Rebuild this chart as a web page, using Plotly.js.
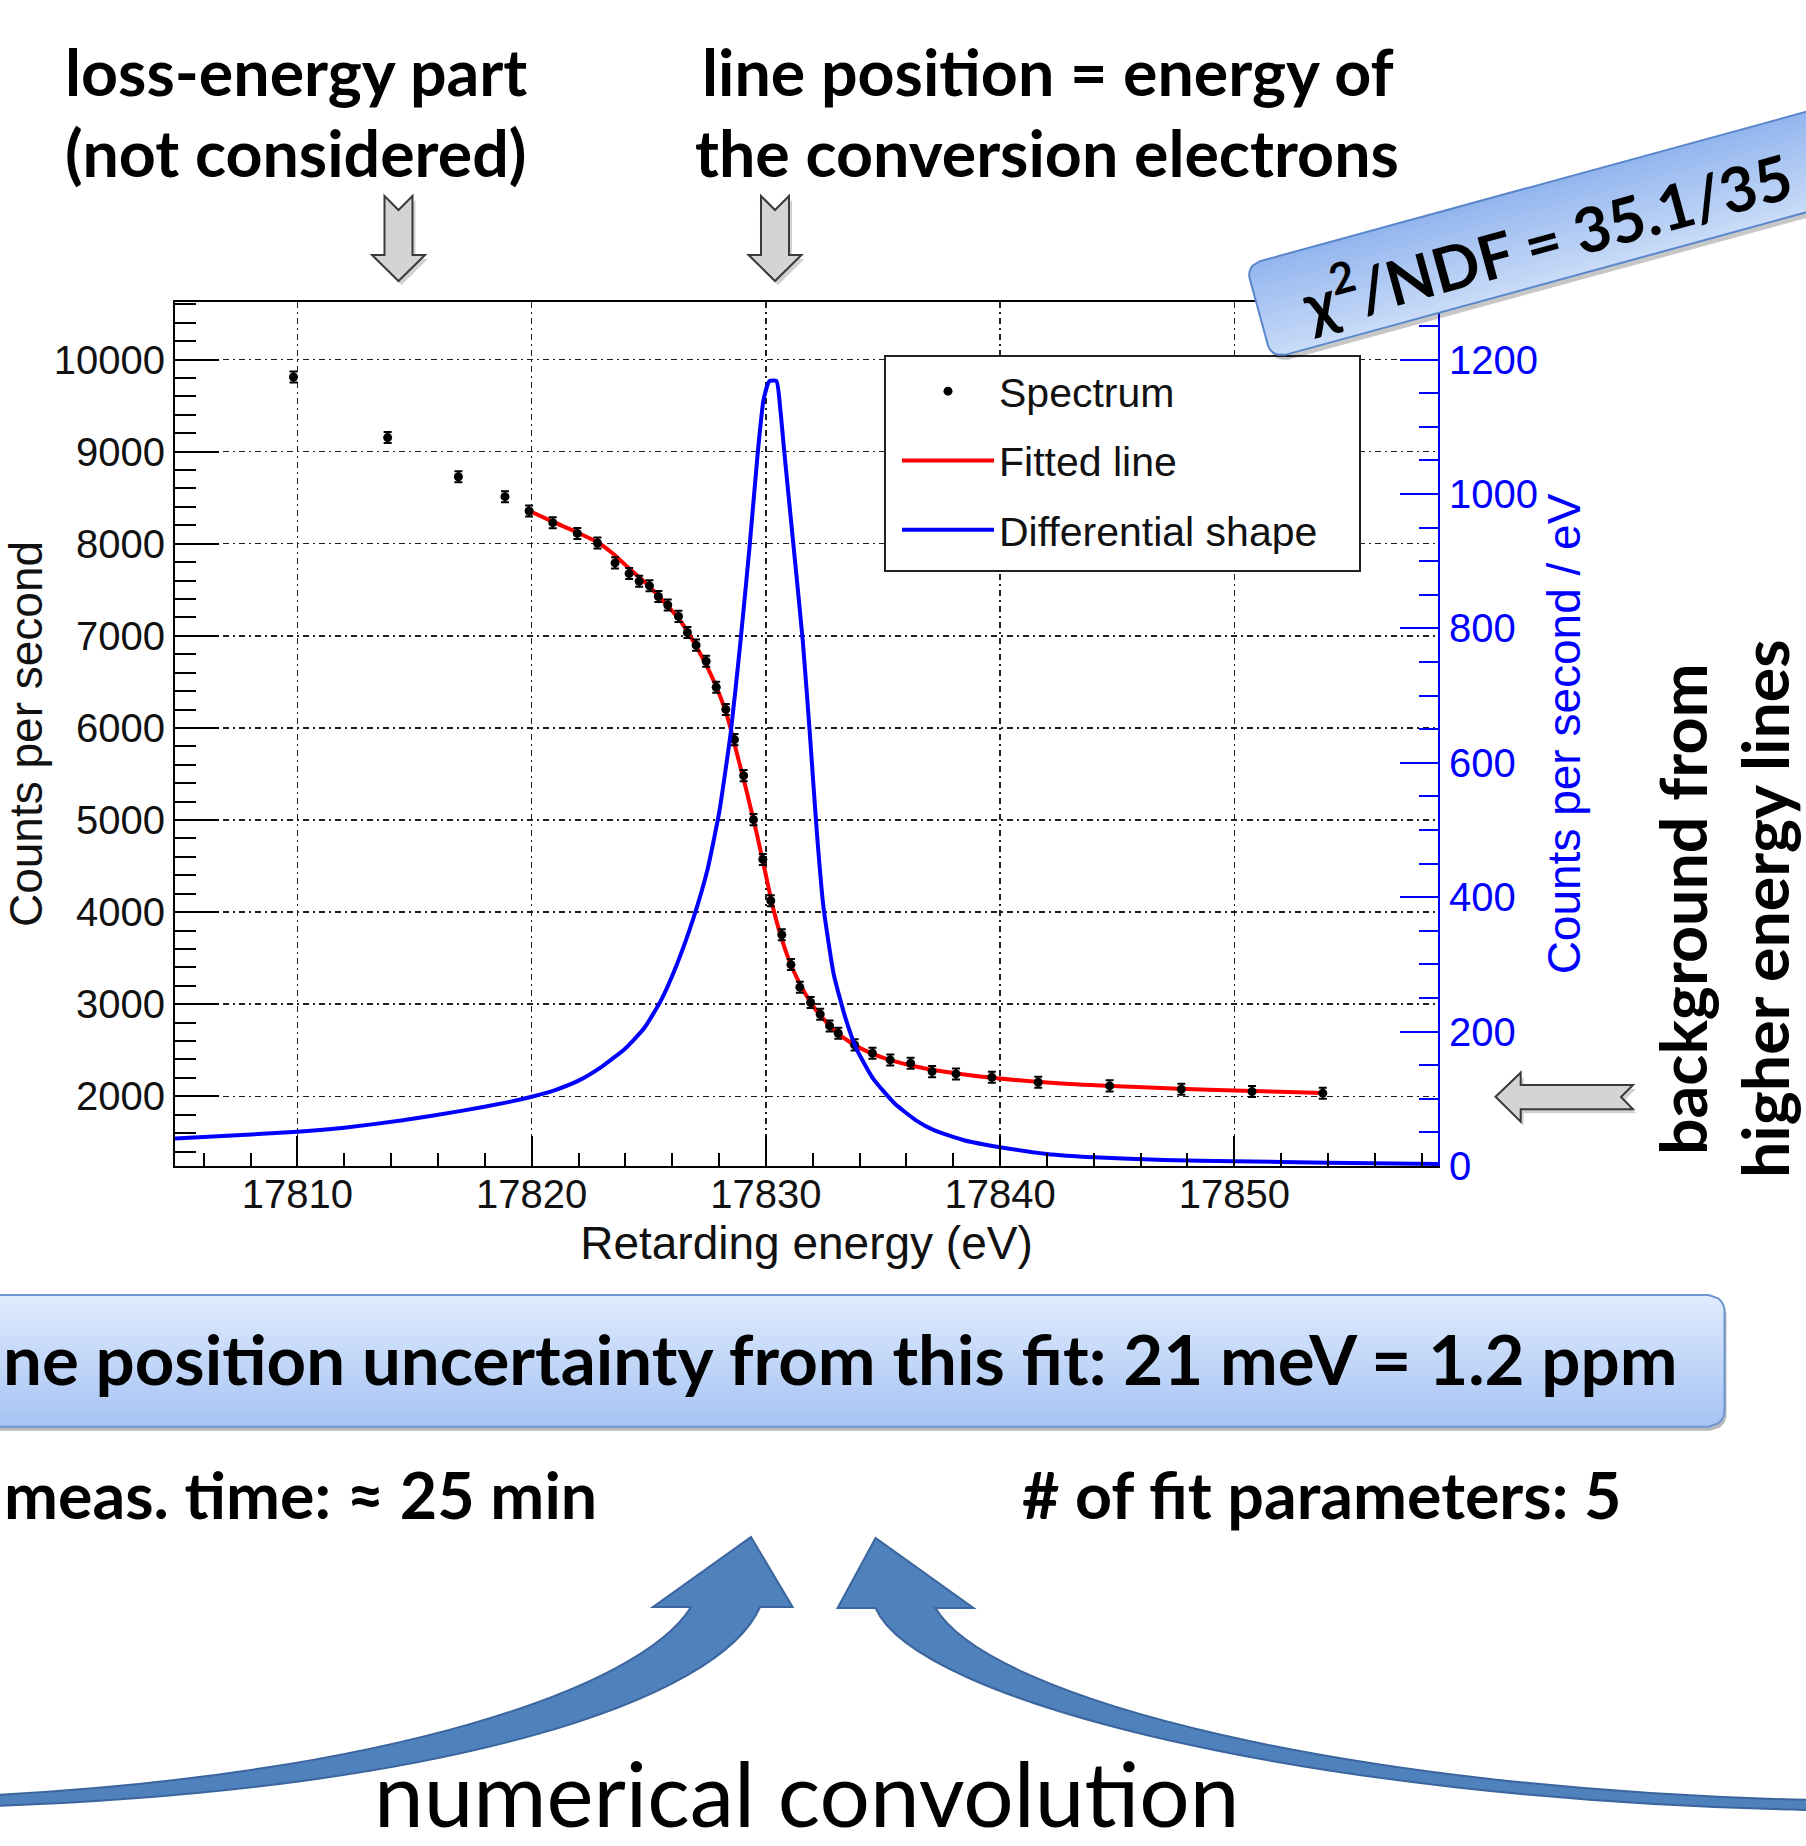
<!DOCTYPE html>
<html><head><meta charset="utf-8">
<script src="https://cdn.plot.ly/plotly-3.0.1.min.js"></script>
<style>html,body{margin:0;padding:0;background:#fff;}#chart{width:1806px;height:1846px;}</style>
</head><body><div id="chart"></div>
<script>
// ---------------- data ----------------
const specE = [17809.83,17813.85,17816.87,17818.86,17819.89,17820.90,17821.95,17822.81,17823.56,17824.16,17824.59,17825.03,17825.41,17825.81,17826.27,17826.65,17827.02,17827.45,17827.88,17828.29,17828.66,17829.05,17829.47,17829.87,17830.21,17830.68,17831.07,17831.45,17831.91,17832.32,17832.72,17833.09,17833.79,17834.55,17835.31,17836.18,17837.10,17838.12,17839.65,17841.63,17844.68,17847.74,17850.76,17853.78];
const specC = [9811,9153,8728,8511,8356,8229,8112,8008,7792,7676,7593,7543,7427,7335,7211,7036,6899,6724,6442,6201,5873,5482,5004,4572,4123,3754,3430,3185,3018,2891,2764,2685,2558,2468,2395,2359,2268,2243,2207,2153,2113,2077,2051,2034];
const fitE = [17819.93,17820.92,17821.92,17822.78,17823.49,17824.20,17824.91,17825.62,17826.33,17827.04,17827.75,17828.32,17828.75,17829.17,17829.60,17829.96,17830.32,17830.74,17831.17,17831.67,17832.13,17832.89,17833.65,17834.41,17835.18,17836.70,17838.23,17839.75,17842.80,17845.85,17848.90,17851.95,17853.75];
const fitC = [8353,8237,8125,8021,7888,7722,7564,7377,7169,6878,6525,6152,5736,5321,4864,4449,4033,3659,3368,3119,2940,2722,2578,2476,2404,2307,2245,2198,2136,2100,2071,2049,2035];
const diffE = [17804.77,17807,17810,17812,17814.5,17817,17819,17820,17821,17822,17823,17824,17824.8,17825.5,17826.2,17826.9,17827.5,17828.0,17828.5,17828.9,17829.3,17829.65,17829.9,17830.15,17830.45,17830.62,17830.78,17831.18,17831.58,17831.89,17832.18,17832.46,17832.9,17833.4,17833.86,17834.58,17835.5,17836.41,17837.2,17838.5,17840,17842,17844,17847,17850,17854,17858.7];
const diffR = [41,45,51,57,68,82,95,103,113,127,148,175,205,245,300,368,440,525,645,775,920,1060,1140,1168,1168,1125,1065,923,780,637,495,385,285,220,175,130,93,68,53,38,28,18,13,9,7,5,3];
const legendNames = ['Spectrum','Fitted line','Differential shape'];

// ---------------- geometry helpers (pixel -> paper) ----------------
const W=1806,H=1846,L=175,R=1438,T=302,B=1166;
const px=x=>(x-L)/(R-L), py=y=>(B-y)/(B-T);
const pt=(x,y)=>px(x).toFixed(5)+','+py(y).toFixed(5);
const poly=pts=>'M'+pts.map(p=>pt(p[0],p[1])).join('L')+'Z';
const shapes=[];
function addPath(path, fill, lc, lw){
  shapes.push({type:'path',xref:'paper',yref:'paper',layer:'above',path:path,fillcolor:fill,
    line:{color:lc||'rgba(0,0,0,0)',width:lw||0}});
}
function lerpCol(c0,c1,t){
  const a=[1,3,5].map(i=>parseInt(c0.substr(i,2),16)), b=[1,3,5].map(i=>parseInt(c1.substr(i,2),16));
  return 'rgb('+a.map((v,i)=>Math.round(v+(b[i]-v)*t)).join(',')+')';
}
function boxFrame(ox,oy,angDeg,r,Hy){
  const a=angDeg*Math.PI/180, ca=Math.cos(a), sa=Math.sin(a);
  const G=(x,y)=>[ox+x*ca+y*sa, oy-x*sa+y*ca];
  const inset=y=>{ if(y<r){const d=r-y;return r-Math.sqrt(Math.max(0,r*r-d*d));}
                   if(y>Hy-r){const d=y-(Hy-r);return r-Math.sqrt(Math.max(0,r*r-d*d));} return 0;};
  return {G,inset};
}
function outline(ox,oy,angDeg,Lx,Hy,r){
  const {G,inset}=boxFrame(ox,oy,angDeg,r,Hy); const pts=[]; const m=40;
  for(let k=0;k<=m;k++){const y=Hy*k/m; pts.push(G(Lx-inset(y),y));}
  for(let k=m;k>=0;k--){const y=Hy*k/m; pts.push(G(inset(y),y));}
  return poly(pts);
}
// rounded rectangle (rotated local frame) with a vertical gradient made of bands
function roundedBox(ox,oy,angDeg,Lx,Hy,r,c0,c1,n,border,bw){
  const {G,inset}=boxFrame(ox,oy,angDeg,r,Hy);
  for(let i=0;i<n;i++){
    const y0=Hy*i/n, y1=Math.min(Hy, Hy*(i+1)/n+0.8);
    const ys=[]; for(let k=0;k<=4;k++) ys.push(y0+(y1-y0)*k/4);
    const pts=[];
    ys.forEach(y=>pts.push(G(Lx-inset(y),y)));
    ys.slice().reverse().forEach(y=>pts.push(G(inset(y),y)));
    addPath(poly(pts), lerpCol(c0,c1,(i+0.5)/n));
  }
  if(border) addPath(outline(ox,oy,angDeg,Lx,Hy,r),'rgba(0,0,0,0)',border,bw);
}

// legend frame (white box with dark border)
addPath(poly([[885,356],[1360,356],[1360,571],[885,571]]),'#ffffff','#222222',2);
// down block arrows (notched)
function downArrow(cx){
  const p=[[cx-14,196],[cx,210],[cx+14,196],[cx+14,255],[cx+26.5,255],[cx,281],[cx-26.5,255],[cx-14,255]];
  addPath(poly(p.map(q=>[q[0]+3,q[1]+4])),'rgba(0,0,0,0.18)');
  addPath(poly(p),'#d4d4d4','#3a3a3a',2);
}
downArrow(398.5); downArrow(775);
// left block arrow (background)
{
  const p=[[1495.5,1096.7],[1520.7,1072.7],[1520.7,1085],[1633,1085],[1621,1097],[1633,1109.3],[1520.7,1109.3],[1520.7,1121.7]];
  addPath(poly(p.map(q=>[q[0]+3,q[1]+4])),'rgba(0,0,0,0.18)');
  addPath(poly(p),'#d4d4d4','#3a3a3a',2);
}
// chi2 box
addPath(outline(1249,270,15.3,720,97,14),'rgba(0,0,0,0.22)');
roundedBox(1246,265,15.3,720,97,14,'#93b5ee','#c9dcf8',24,'#5a86cc',2);
// banner box
addPath(outline(-28,1299,0,1754.5,131.7,16),'rgba(0,0,0,0.28)');
roundedBox(-30,1295,0,1754.5,131.7,16,'#e0ebfd','#a5c3f4',30,'#6e96d2',2);
// curved arrows
addPath('M'+pt(751,1537)+'L'+pt(792.6,1607)+'L'+pt(760,1607)+'C'+pt(720,1700)+' '+pt(450,1790)+' '+pt(-6,1806)
  +'L'+pt(-6,1795)+'C'+pt(380,1775)+' '+pt(640,1690)+' '+pt(691,1607)+'L'+pt(653,1607)+'Z','#4f81bd','#3b659c',2);
addPath('M'+pt(875.6,1538)+'L'+pt(837.6,1608)+'L'+pt(875.6,1608)+'C'+pt(915,1700)+' '+pt(1300,1800)+' '+pt(1812,1810)
  +'L'+pt(1812,1800)+'C'+pt(1350,1790)+' '+pt(990,1700)+' '+pt(935.5,1608)+'L'+pt(973.5,1608)+'Z','#4f81bd','#3b659c',2);

// ---------------- annotations ----------------
const FB='Lato, "Open Sans", sans-serif';
const fsB=64.5, cOff=0.387*fsB, fsBan=69, fsChi=62, fsConv=89;
function note(text,x,y,opts,size){
  return Object.assign({xref:'paper',yref:'paper',x:px(x),y:py(y),text:text,showarrow:false,
    xanchor:'center',yanchor:'middle',font:{family:FB,size:size||fsB,color:'#000'}},opts||{});
}
const annots=[
  note('<b>loss-energy part</b>',296,96-cOff),
  note('<b>(not considered)</b>',296,176.7-cOff),
  note('<b>line position = energy of</b>',1048,96-cOff),
  note('<b>the conversion electrons</b>',1047,176.7-cOff),
  note('<b>χ<sup>2</sup>/NDF = 35.1/35</b>',1546,236,{textangle:-15.3},fsChi),
  note('<b>ne position uncertainty from this fit: 21 meV = 1.2 ppm</b>',1680,1385-0.387*fsBan,{xanchor:'right'},fsBan),
  note('<b>meas. time: ≈ 25 min</b>',2,1519-cOff,{xanchor:'left'}),
  note('<b># of fit parameters: 5</b>',1020,1519-cOff,{xanchor:'left'}),
  note('<b>background from</b>',1707-cOff,909,{textangle:-90}),
  note('<b>higher energy lines</b>',1789-cOff,909,{textangle:-90}),
  note('numerical convolution',806,1827-0.387*fsConv,{},fsConv)
];

// ---------------- traces ----------------
const ROOTF='"Liberation Sans", Arial, sans-serif';
const traces=[
  {x:fitE,y:fitC,type:'scatter',mode:'lines',name:legendNames[1],line:{color:'#ff0000',width:4,shape:'spline',smoothing:0.6},
   legendrank:2,legendgroup:'b'},
  {x:specE,y:specC,type:'scatter',mode:'markers',name:legendNames[0],marker:{color:'#000',size:9},
   error_y:{type:'constant',value:60,color:'#000',thickness:2,width:4},legendrank:1,legendgroup:'a'},
  {x:diffE,y:diffR,type:'scatter',mode:'lines',yaxis:'y2',name:legendNames[2],line:{color:'#0000ff',width:4,shape:'spline',smoothing:0.5},
   legendrank:3,legendgroup:'c'}
];
const gridDash='6px,4px,2px,4px';
const layout={
  width:W,height:H,margin:{l:L,r:W-R,t:T,b:H-B,pad:0},
  paper_bgcolor:'#fff',plot_bgcolor:'#fff',
  font:{family:ROOTF,color:'#111'},
  xaxis:{range:[17804.77,17858.70],tick0:17800,dtick:10,tickformat:'d',ticks:'inside',ticklen:30,tickwidth:2,tickcolor:'#000',
    showline:true,linecolor:'#000',linewidth:2,mirror:true,zeroline:false,
    showgrid:true,gridcolor:'#222',gridwidth:1.5,griddash:gridDash,
    minor:{ticks:'inside',ticklen:13,tickwidth:2,tickcolor:'#000',dtick:2,tick0:17800,showgrid:false},
    tickfont:{family:ROOTF,size:40,color:'#111'},ticklabelstandoff:-8,
    title:{text:'Retarding energy (eV)',font:{family:ROOTF,size:46,color:'#111'},standoff:12}},
  yaxis:{range:[1243,10625],tick0:0,dtick:1000,tickformat:'d',ticks:'inside',ticklen:44,tickwidth:2,tickcolor:'#000',
    showline:true,linecolor:'#000',linewidth:2,mirror:false,zeroline:false,
    showgrid:true,gridcolor:'#222',gridwidth:1.5,griddash:gridDash,
    minor:{ticks:'inside',ticklen:21,tickwidth:2,tickcolor:'#000',dtick:200,tick0:0,showgrid:false},
    tickfont:{family:ROOTF,size:40,color:'#111'},ticklabelstandoff:0,
    title:{text:'Counts per second',font:{family:ROOTF,size:46,color:'#111'},standoff:0}},
  yaxis2:{overlaying:'y',side:'right',range:[0,1285.7],tick0:0,dtick:200,tickformat:'d',ticks:'inside',ticklen:38,tickwidth:2,tickcolor:'#0000ff',
    showline:true,linecolor:'#0000ff',linewidth:2,zeroline:false,showgrid:false,
    minor:{ticks:'inside',ticklen:19,tickwidth:2,tickcolor:'#0000ff',dtick:50,tick0:0,showgrid:false},
    tickfont:{family:ROOTF,size:40,color:'#0000ff'},ticklabelstandoff:1,
    title:{text:'Counts per second / eV',font:{family:ROOTF,size:46,color:'#0000ff'},standoff:8}},
  showlegend:true,
  legend:{x:px(897),y:py(358),xanchor:'left',yanchor:'top',bgcolor:'rgba(0,0,0,0)',borderwidth:0,
    font:{family:ROOTF,size:41,color:'#111'},itemwidth:92,traceorder:'grouped',tracegroupgap:13},
  shapes:shapes,annotations:annots
};
Plotly.newPlot('chart',traces,layout,{displayModeBar:false,staticPlot:true});
</script></body></html>
